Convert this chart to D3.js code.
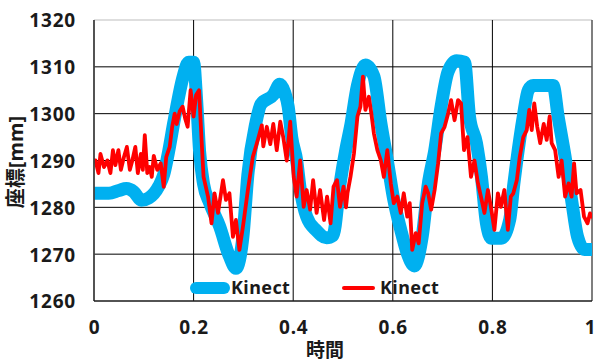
<!DOCTYPE html>
<html>
<head>
<meta charset="utf-8">
<script src="https://cdn.jsdelivr.net/npm/d3@7"></script>
<style>
  html, body { margin: 0; padding: 0; background: #fff; }
  svg { display: block; }
  .tick text, .lbl { font-family: "Noto Sans", "Noto Sans CJK JP", sans-serif; font-weight: bold; fill: #1a1a1a; }
</style>
</head>
<body>
<svg id="chart" width="595" height="363"></svg>
<script>
// Tick values
const yTicks = [1260, 1270, 1280, 1290, 1300, 1310, 1320];
const xTicks = [0, 0.2, 0.4, 0.6, 0.8, 1];
const xTickLabels = ["0", "0.2", "0.4", "0.6", "0.8", "1"];

// Series 1 (thick blue): time and coordinate [mm]
const blueTime = [0, 0.03, 0.05, 0.065, 0.08, 0.095, 0.11, 0.13, 0.14, 0.15, 0.16, 0.167, 0.178, 0.19, 0.2,
  0.206, 0.212, 0.22, 0.232, 0.252, 0.272, 0.285, 0.299, 0.309, 0.325, 0.335, 0.36, 0.373, 0.383, 0.39,
  0.397, 0.407, 0.414, 0.427, 0.447, 0.467, 0.48, 0.494, 0.506, 0.515, 0.529, 0.545, 0.562, 0.576, 0.589,
  0.602, 0.616, 0.629, 0.643, 0.659, 0.672, 0.684, 0.697, 0.711, 0.728, 0.744, 0.754, 0.768, 0.778, 0.788,
  0.798, 0.818, 0.835, 0.843, 0.849, 0.862, 0.872, 0.882, 0.922, 0.932, 0.946, 0.959, 0.971, 0.985, 1.0];
const blueValue = [1283, 1283, 1283.6, 1284, 1283.3, 1281.5, 1282, 1284.5, 1287, 1292, 1298, 1302, 1307.5, 1311, 1311,
  1303, 1292, 1285, 1281, 1276, 1269.5, 1267, 1273.7, 1287, 1298, 1302, 1304, 1306.3, 1304.5, 1301.5,
  1295, 1290, 1284, 1278, 1275, 1273.5, 1274, 1285, 1292.5, 1297.2, 1306, 1310.4, 1308, 1298, 1290,
  1281.6, 1275.2, 1270.2, 1267.5, 1273.7, 1285.5, 1292, 1301.5, 1309, 1311.3, 1311, 1299.4, 1293.7, 1286.5, 1276.6,
  1273.4, 1273.4, 1277.5, 1285, 1290, 1299.4, 1305, 1306, 1306, 1299.4, 1290.8, 1281.6, 1273.7, 1271, 1271];

// Series 2 (thin red): time and coordinate [mm]
const redTime = [0, 0.003, 0.009, 0.013, 0.02, 0.027, 0.033, 0.038, 0.043, 0.049, 0.054, 0.06, 0.066, 0.072, 0.077,
  0.083, 0.088, 0.094, 0.098, 0.102, 0.107, 0.112, 0.116, 0.12, 0.127, 0.134, 0.14, 0.145, 0.152, 0.157,
  0.162, 0.166, 0.172, 0.178, 0.183, 0.188, 0.194, 0.2, 0.205, 0.211, 0.216, 0.22, 0.229, 0.236, 0.242,
  0.249, 0.259, 0.265, 0.272, 0.279, 0.285, 0.292, 0.299, 0.309, 0.319, 0.329, 0.337, 0.34, 0.347, 0.354,
  0.36, 0.367, 0.374, 0.38, 0.387, 0.394, 0.401, 0.407, 0.414, 0.421, 0.427, 0.434, 0.44, 0.447, 0.454,
  0.462, 0.468, 0.475, 0.481, 0.488, 0.494, 0.501, 0.506, 0.509, 0.515, 0.522, 0.529, 0.535, 0.54, 0.545,
  0.552, 0.557, 0.562, 0.569, 0.576, 0.582, 0.589, 0.596, 0.602, 0.609, 0.616, 0.622, 0.629, 0.634, 0.639,
  0.646, 0.652, 0.659, 0.666, 0.671, 0.677, 0.684, 0.691, 0.697, 0.704, 0.711, 0.717, 0.724, 0.731, 0.737,
  0.743, 0.75, 0.757, 0.764, 0.771, 0.777, 0.784, 0.791, 0.797, 0.804, 0.811, 0.817, 0.824, 0.831, 0.837,
  0.842, 0.849, 0.855, 0.862, 0.869, 0.874, 0.879, 0.884, 0.89, 0.896, 0.903, 0.909, 0.915, 0.919, 0.926,
  0.933, 0.939, 0.946, 0.953, 0.959, 0.964, 0.969, 0.977, 0.984, 0.991, 0.996, 1.0];
const redValue = [1290, 1290, 1287.3, 1291.4, 1288.6, 1290, 1287.3, 1292.2, 1289, 1292.2, 1288, 1290.7, 1292.9, 1288, 1290,
  1292.9, 1287.3, 1291.4, 1288, 1295.4, 1287.3, 1288.6, 1286.5, 1291, 1288, 1289.4, 1284.4, 1290.7, 1292.9, 1297.2,
  1300, 1297.8, 1300.5, 1301.5, 1299, 1297.2, 1305, 1299.4, 1304, 1305, 1294.4, 1286.5, 1282.3, 1276.6, 1283,
  1278.8, 1285.8, 1281.6, 1283, 1273.7, 1277.3, 1270.9, 1275.8, 1283.7, 1290.8, 1294.4, 1297.5, 1293, 1297.2, 1293.5,
  1297.8, 1292.2, 1298.3, 1295, 1290, 1298.3, 1286.5, 1282.3, 1290, 1280.1, 1283.7, 1279.5, 1285.8, 1278.8, 1283.7,
  1277.3, 1282.3, 1276.6, 1284.4, 1285.8, 1280.1, 1284.4, 1280, 1283, 1286.5, 1291.5, 1299.4, 1301.5, 1307.9, 1300.8,
  1303.6, 1300, 1295.8, 1292.2, 1290, 1286.5, 1292.2, 1285.1, 1280.9, 1282.3, 1278.8, 1283, 1278, 1280.9, 1270.9,
  1274.5, 1272.3, 1280.9, 1284.4, 1283, 1279.5, 1283.7, 1289.4, 1295.8, 1297.2, 1300, 1302.9, 1298.6, 1302.9, 1302.2,
  1292.2, 1295, 1286.5, 1290, 1285.1, 1282.3, 1278.8, 1283.7, 1280.1, 1275.2, 1283, 1280.1, 1283.7, 1275.2, 1282.3,
  1283, 1285.8, 1290.8, 1295, 1296.5, 1300.8, 1296.5, 1302.2, 1297.2, 1293.7, 1297.8, 1294.4, 1299.4, 1293.7, 1292.2,
  1286.5, 1290, 1282.3, 1285.1, 1282.3, 1289.4, 1283, 1283.7, 1278, 1276.6, 1278.7, 1278];

const seriesName = "Kinect";
const blueColor = "#00B0F0";
const redColor = "#FF0000";

const svg = d3.select("#chart");
const plot = { left: 94, right: 592, top: 20, bottom: 301 };

const x = d3.scaleLinear().domain([0, 1]).range([plot.left, plot.right]);
const y = d3.scaleLinear().domain([1260, 1320]).range([plot.bottom, plot.top]);

svg.append("defs").append("clipPath").attr("id", "plotClip")
  .append("rect")
  .attr("x", plot.left).attr("y", plot.top)
  .attr("width", plot.right - plot.left).attr("height", plot.bottom - plot.top);

// Horizontal gridlines
svg.append("g").selectAll("line").data(yTicks.filter(v => v > 1260 && v < 1320)).join("line")
  .attr("x1", plot.left).attr("x2", plot.right)
  .attr("y1", d => y(d)).attr("y2", d => y(d))
  .attr("stroke", "#000").attr("stroke-width", 1);
// Top edge
svg.append("line").attr("x1", plot.left).attr("x2", plot.right)
  .attr("y1", y(1320)).attr("y2", y(1320)).attr("stroke", "#bdbdbd").attr("stroke-width", 1.2);
// Vertical gridlines
svg.append("g").selectAll("line").data(xTicks.filter(v => v > 0)).join("line")
  .attr("x1", d => x(d)).attr("x2", d => x(d))
  .attr("y1", plot.top).attr("y2", plot.bottom)
  .attr("stroke", d => d === 1 ? "#555" : "#000").attr("stroke-width", d => d === 1 ? 1.5 : 1);

// Series
const blueData = blueTime.map((t, i) => [t, blueValue[i]]);
const redData = redTime.map((t, i) => [t, redValue[i]]);

const smoothLine = d3.line().x(d => x(d[0])).y(d => y(d[1])).curve(d3.curveMonotoneX);
const rawLine = d3.line().x(d => x(d[0])).y(d => y(d[1]));

const series = svg.append("g").attr("clip-path", "url(#plotClip)");
series.append("path").datum(blueData)
  .attr("d", smoothLine)
  .attr("fill", "none").attr("stroke", blueColor).attr("stroke-width", 13)
  .attr("stroke-linejoin", "round").attr("stroke-linecap", "round");
series.append("path").datum(redData)
  .attr("d", rawLine)
  .attr("fill", "none").attr("stroke", redColor).attr("stroke-width", 3.8)
  .attr("stroke-linejoin", "round").attr("stroke-linecap", "round");

// Axes lines
svg.append("line").attr("x1", plot.left).attr("x2", plot.left)
  .attr("y1", plot.top).attr("y2", plot.bottom).attr("stroke", "#404040").attr("stroke-width", 1.8);
svg.append("line").attr("x1", plot.left).attr("x2", plot.right)
  .attr("y1", plot.bottom).attr("y2", plot.bottom).attr("stroke", "#1a1a1a").attr("stroke-width", 1.5);

// Tick labels via axes
const yAxis = svg.append("g").attr("transform", `translate(${plot.left},0)`)
  .call(d3.axisLeft(y).tickValues(yTicks).tickSize(0).tickPadding(18).tickFormat(d3.format("d")));
yAxis.select(".domain").remove();
yAxis.selectAll("text").style("font-size", "19px").style("letter-spacing", "0.8px")
  .attr("font-family", null).attr("dy", "0.36em");

const xAxis = svg.append("g").attr("transform", `translate(0,${plot.bottom})`)
  .call(d3.axisBottom(x).tickValues(xTicks).tickSize(0).tickPadding(20)
    .tickFormat((d, i) => xTickLabels[i]));
xAxis.select(".domain").remove();
xAxis.selectAll("text").style("font-size", "19px").style("letter-spacing", "0.8px");
// Last label sits against the right edge of the canvas
xAxis.selectAll("text").filter(d => d === 1)
  .attr("text-anchor", "end").attr("x", 595 - plot.right).style("letter-spacing", "0px");

// Axis titles
svg.append("text").attr("class", "lbl")
  .attr("x", 325).attr("y", 357)
  .attr("text-anchor", "middle")
  .style("font-size", "19px")
  .text("時間");
svg.append("text").attr("class", "lbl")
  .attr("transform", "translate(23,162) rotate(-90)")
  .attr("text-anchor", "middle")
  .style("font-size", "20px")
  .text("座標[mm]");

// Legend
const legend = svg.append("g");
legend.append("line").attr("x1", 196).attr("x2", 224).attr("y1", 288).attr("y2", 288)
  .attr("stroke", blueColor).attr("stroke-width", 12).attr("stroke-linecap", "round");
legend.append("text").attr("class", "lbl").attr("x", 231).attr("y", 294)
  .style("font-size", "18px").style("letter-spacing", "0.4px").text(seriesName);
legend.append("line").attr("x1", 344).attr("x2", 373).attr("y1", 288).attr("y2", 288)
  .attr("stroke", redColor).attr("stroke-width", 4).attr("stroke-linecap", "round");
legend.append("text").attr("class", "lbl").attr("x", 380).attr("y", 294)
  .style("font-size", "18px").style("letter-spacing", "0.4px").text(seriesName);
</script>
</body>
</html>
